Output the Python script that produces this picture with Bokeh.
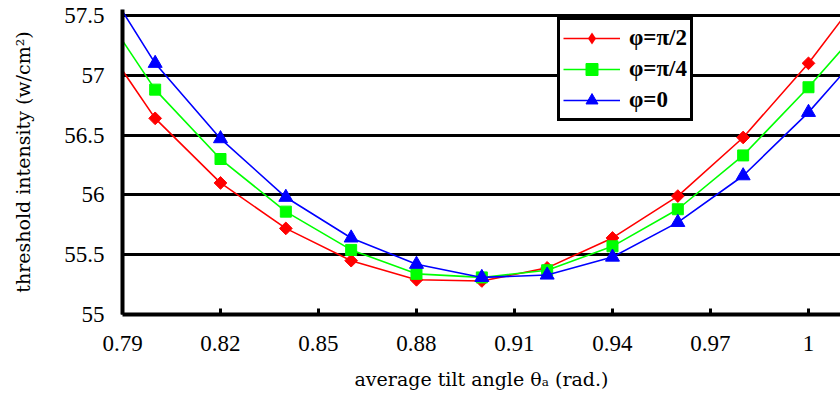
from math import pi

from bokeh.plotting import figure
from bokeh.models import Range1d, FixedTicker, Legend, LegendItem
from bokeh.embed import file_html
from bokeh.resources import INLINE

# tilt angle samples (rad.); the outer two lie just past the visible axis range
theta = [0.78, 0.80, 0.82, 0.84, 0.86, 0.88, 0.90, 0.92, 0.94, 0.96, 0.98, 1.00, 1.02]

# threshold intensity (w/cm^2) for each phase
phi_half_pi = [57.44, 56.64, 56.10, 55.72, 55.45, 55.29, 55.28, 55.39, 55.64, 55.99, 56.48, 57.10, 57.82]
phi_quarter_pi = [57.70, 56.88, 56.30, 55.86, 55.54, 55.34, 55.31, 55.37, 55.57, 55.88, 56.33, 56.90, 57.52]
phi_zero = [57.97, 57.10, 56.47, 55.98, 55.64, 55.42, 55.31, 55.33, 55.48, 55.77, 56.16, 56.69, 57.31]

x_ticks = [0.79, 0.82, 0.85, 0.88, 0.91, 0.94, 0.97, 1.00]
x_tick_labels = ["0.79", "0.82", "0.85", "0.88", "0.91", "0.94", "0.97", "1"]
y_ticks = [55.0, 55.5, 56.0, 56.5, 57.0, 57.5]
y_tick_labels = ["55", "55.5", "56", "56.5", "57", "57.5"]

TICK_FONT = "Liberation Serif"
TITLE_FONT = "DejaVu Serif"

p = figure(width=840, height=398, output_backend="svg", toolbar_location=None,
           x_range=Range1d(0.79, 1.0098), y_range=Range1d(55.0, 57.55),
           min_border_left=122, min_border_right=0, min_border_top=9,
           min_border_bottom=84)
p.outline_line_color = None
p.background_fill_color = "white"
p.border_fill_color = "white"

# horizontal grid only, heavy black rules
p.xgrid.visible = False
p.ygrid.grid_line_color = "black"
p.ygrid.grid_line_width = 3

p.xaxis.ticker = FixedTicker(ticks=x_ticks)
p.xaxis.major_label_overrides = dict(zip(x_ticks, x_tick_labels))
p.yaxis.ticker = FixedTicker(ticks=y_ticks)
p.yaxis.major_label_overrides = dict(zip(y_ticks, y_tick_labels))

for ax in (p.xaxis, p.yaxis):
    ax.axis_line_color = "black"
    ax.axis_line_width = 4
    ax.minor_tick_line_color = None
    ax.major_label_text_font = TICK_FONT
    ax.major_label_text_font_size = "23px"
    ax.major_label_text_color = "black"
    ax.axis_label_text_font = TITLE_FONT
    ax.axis_label_text_font_size = "19px"
    ax.axis_label_text_font_style = "normal"
    ax.axis_label_text_color = "black"

p.xaxis.major_tick_line_color = "black"
p.xaxis.major_tick_line_width = 3
p.xaxis.major_tick_in = 6
p.xaxis.major_tick_out = 0
p.xaxis.major_label_standoff = 21
p.xaxis.axis_label = "average tilt angle \u03b8\u2090 (rad.)"
p.xaxis.axis_label_standoff = 14

p.yaxis.major_tick_line_color = None
p.yaxis.major_tick_in = 0
p.yaxis.major_tick_out = 0
p.yaxis.major_label_standoff = 18
p.yaxis.axis_label = "threshold intensity (w/cm\u00b2)"
p.yaxis.axis_label_standoff = 27

# (label, values, colour, plot marker, size, marker angle, legend marker)
series = [
    ("\u03c6=\u03c0/2", phi_half_pi, "#FF0000", "square", 9, pi / 4, "diamond"),
    ("\u03c6=\u03c0/4", phi_quarter_pi, "#00FF00", "square", 11, 0.0, "square"),
    ("\u03c6=0", phi_zero, "#0000FF", "triangle", 14, 0.0, "triangle"),
]

items = []
for label, ys, color, marker, size, ang, key_marker in series:
    ln = p.line(theta, ys, line_color=color, line_width=1.6)
    mk = p.scatter(theta, ys, marker=marker, size=size, angle=ang,
                   fill_color=color, line_color=color, line_width=1)
    if key_marker == marker and ang == 0.0:
        key = mk
    else:
        # zero-size twin of the series: invisible in the plot, but gives the
        # legend an upright diamond key (legend keys ignore marker angle)
        key = p.scatter(theta, ys, marker=key_marker, size=0,
                        fill_color=color, line_color=None)
    items.append(LegendItem(label=label, renderers=[ln, key]))

legend = Legend(items=items, location=(435, 193),
                label_text_font=TICK_FONT, label_text_font_size="23px",
                label_text_font_style="bold", label_text_color="black",
                glyph_width=57, glyph_height=30, label_height=30,
                label_standoff=9, spacing=1, padding=3, margin=0,
                border_line_color="black", border_line_width=3,
                border_line_alpha=1.0,
                background_fill_color="white", background_fill_alpha=1.0)
p.add_layout(legend, "center")

open("out.html", "w").write(file_html(p, INLINE))
